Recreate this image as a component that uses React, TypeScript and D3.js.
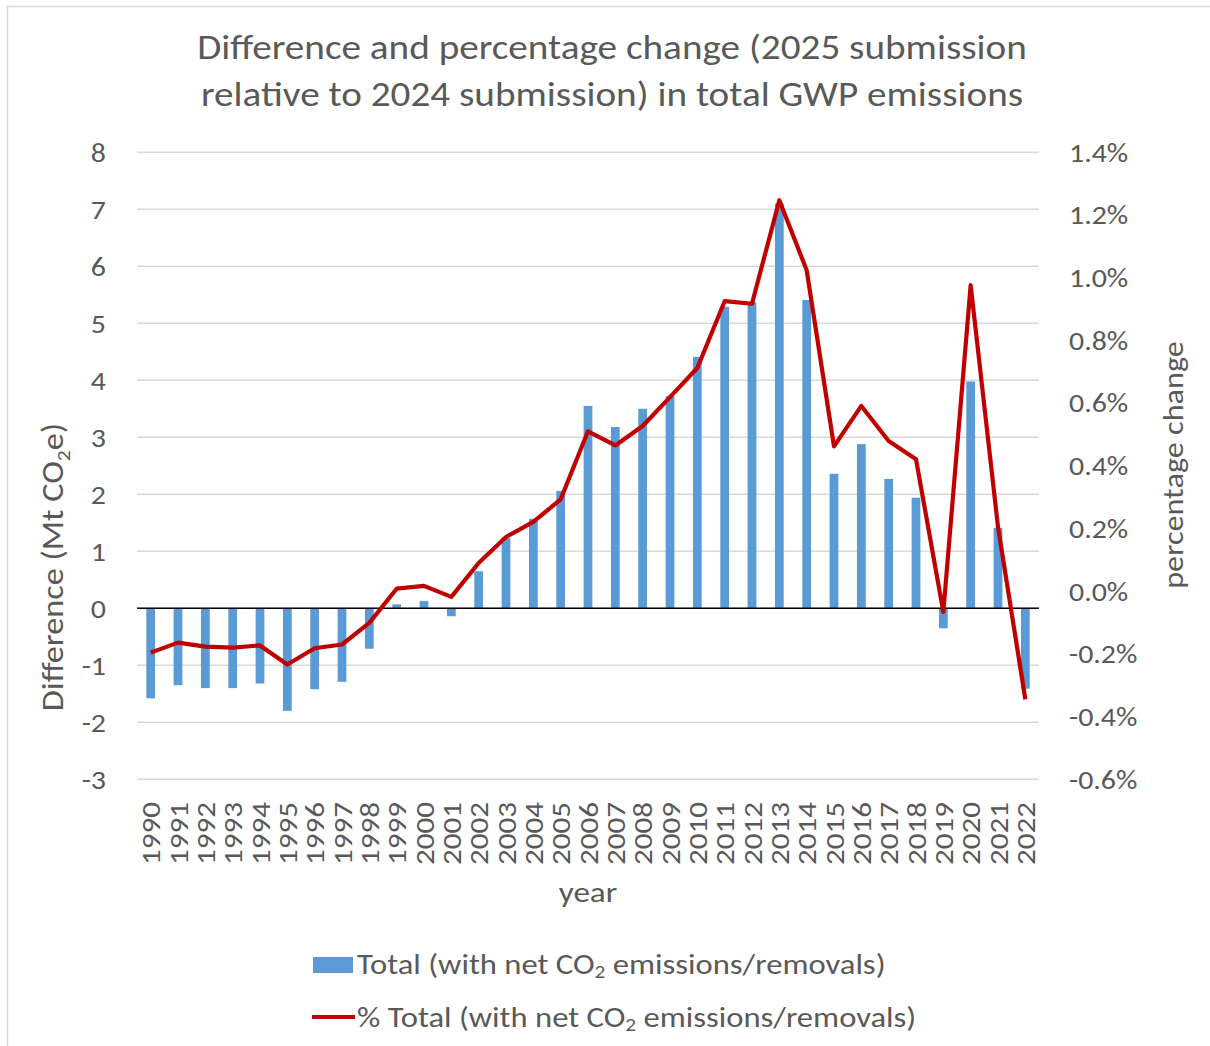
import React from "react";
import * as d3 from "d3";

// Inventory years
const years: string[] = [
  "1990", "1991", "1992", "1993", "1994", "1995", "1996", "1997", "1998", "1999",
  "2000", "2001", "2002", "2003", "2004", "2005", "2006", "2007", "2008", "2009",
  "2010", "2011", "2012", "2013", "2014", "2015", "2016", "2017", "2018", "2019",
  "2020", "2021", "2022",
];

// Difference in Mt CO2e (bars, left axis)
const differenceMt: number[] = [
  -1.58, -1.35, -1.4, -1.4, -1.32, -1.8, -1.42, -1.29, -0.71, 0.07,
  0.13, -0.14, 0.65, 1.23, 1.57, 2.06, 3.55, 3.18, 3.5, 3.72,
  4.41, 5.29, 5.37, 7.1, 5.41, 2.36, 2.88, 2.27, 1.94, -0.35,
  3.98, 1.41, -1.41,
];

// Percentage change (line, right axis)
const percentChange: number[] = [
  -0.196, -0.164, -0.177, -0.18, -0.173, -0.234, -0.182, -0.17, -0.101, 0.008,
  0.017, -0.018, 0.09, 0.173, 0.221, 0.293, 0.51, 0.465, 0.527, 0.619,
  0.712, 0.925, 0.917, 1.247, 1.024, 0.462, 0.591, 0.479, 0.421, -0.066,
  0.976, 0.205, -0.345,
];

const leftTicks: number[] = [-3, -2, -1, 0, 1, 2, 3, 4, 5, 6, 7, 8];
const rightTicks: number[] = [-0.6, -0.4, -0.2, 0, 0.2, 0.4, 0.6, 0.8, 1.0, 1.2, 1.4];

const titleLines: string[] = [
  "Difference and percentage change (2025 submission",
  "relative to 2024 submission) in total GWP emissions",
];

const W = 1210;
const H = 1046;
const FONT = "Carlito, Calibri, Lato, sans-serif";
const TEXT = "#595959";
const BAR = "#5b9bd5";
const LINE = "#c00000";

const plot = { left: 137, right: 1039, top: 152.3, bottom: 779.3 };

// Text placed by translate/rotate, widened along its reading direction.
function T(props: {
  x: number;
  y: number;
  rot?: number;
  sx?: number;
  size: number;
  anchor?: "start" | "middle" | "end";
  dy?: string;
  children: React.ReactNode;
}) {
  const { x, y, rot, sx = 1, size, anchor = "start", dy, children } = props;
  const tf = `translate(${x},${y})${rot ? ` rotate(${rot})` : ""} scale(${sx},1)`;
  return (
    <text transform={tf} textAnchor={anchor} dy={dy} fontSize={size} fill={TEXT}>
      {children}
    </text>
  );
}

export default function App() {
  const x = d3
    .scaleBand<string>()
    .domain(years)
    .range([plot.left, plot.right])
    .paddingInner(0.68)
    .paddingOuter(0.34);
  const yL = d3.scaleLinear().domain([-3, 8]).range([plot.bottom, plot.top]);
  const yR = d3.scaleLinear().domain([-0.6, 1.4]).range([plot.bottom, plot.top]);
  const cx = (y: string) => (x(y) as number) + x.bandwidth() / 2;
  const pct = (t: number) => d3.format(".1%")(t / 100).replace("\u2212", "-");

  const linePath =
    d3
      .line<number>()
      .x((_, i) => cx(years[i]))
      .y((d) => yR(d))(percentChange) || "";

  return (
    <svg
      width={W}
      height={H}
      style={{ position: "absolute", left: 0, top: 0, background: "#fff" }}
      fontFamily={FONT}
    >
      <rect x={0} y={0} width={W} height={H} fill="#fff" />
      {/* chart frame */}
      <rect x={7.5} y={6.5} width={W + 20} height={H + 20} fill="none" stroke="#d9d9d9" strokeWidth={1.5} />

      {/* title */}
      {titleLines.map((t, i) => (
        <T key={t} x={612} y={59 + i * 47} size={35} sx={1.12} anchor="middle">
          {t}
        </T>
      ))}

      {/* gridlines */}
      {leftTicks.map((t) => (
        <line
          key={"g" + t}
          x1={plot.left}
          x2={plot.right}
          y1={yL(t)}
          y2={yL(t)}
          stroke="#d9d9d9"
          strokeWidth={1.5}
        />
      ))}

      {/* bars */}
      {differenceMt.map((v, i) => (
        <rect
          key={"b" + years[i]}
          x={x(years[i])}
          width={x.bandwidth()}
          y={Math.min(yL(v), yL(0))}
          height={Math.abs(yL(v) - yL(0))}
          fill={BAR}
        />
      ))}

      {/* zero line */}
      <line x1={plot.left} x2={plot.right} y1={yL(0)} y2={yL(0)} stroke="#000" strokeWidth={1.5} />

      {/* percentage line */}
      <path d={linePath} fill="none" stroke={LINE} strokeWidth={4.2} strokeLinejoin="round" />

      {/* left axis labels */}
      {leftTicks.map((t) => (
        <T key={"l" + t} x={106} y={yL(t)} dy="0.36em" anchor="end" size={26} sx={1.15}>
          {t}
        </T>
      ))}

      {/* right axis labels */}
      {rightTicks.map((t) => (
        <T key={"r" + t} x={1069} y={yR(t)} dy="0.36em" size={26} sx={1.15}>
          {pct(t)}
        </T>
      ))}

      {/* year labels */}
      {years.map((yr) => (
        <T key={"x" + yr} x={cx(yr)} y={802} rot={-90} dy="0.36em" anchor="end" size={27} sx={1.15}>
          {yr}
        </T>
      ))}

      {/* axis titles */}
      <T x={52} y={567} rot={-90} dy="0.36em" anchor="middle" size={30} sx={1.14}>
        Difference (Mt CO
        <tspan fontSize={19} dy={7}>2</tspan>
        <tspan dy={-7}>e)</tspan>
      </T>
      <T x={1173} y={465} rot={-90} dy="0.36em" anchor="middle" size={29} sx={1.11}>
        percentage change
      </T>
      <T x={588} y={902} anchor="middle" size={29} sx={1.14}>
        year
      </T>

      {/* legend */}
      <rect x={313} y={957} width={40} height={16} fill={BAR} />
      <T x={357} y={974} size={29} sx={1.125}>
        Total (with net CO
        <tspan fontSize={19} dy={4}>2</tspan>
        <tspan dy={-4}> emissions/removals)</tspan>
      </T>
      <line x1={312} x2={355} y1={1017} y2={1017} stroke={LINE} strokeWidth={4} />
      <T x={357} y={1027} size={29} sx={1.125}>
        % Total (with net CO
        <tspan fontSize={19} dy={4}>2</tspan>
        <tspan dy={-4}> emissions/removals)</tspan>
      </T>
    </svg>
  );
}
